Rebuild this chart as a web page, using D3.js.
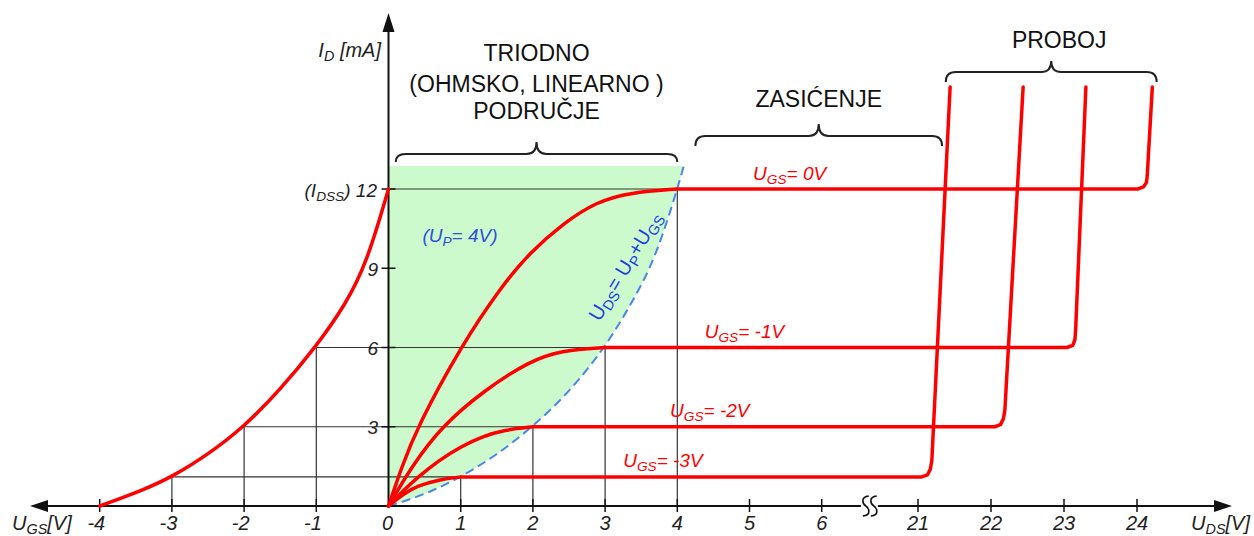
<!DOCTYPE html>
<html lang="en">
<head>
<meta charset="UTF-8">
<title>JFET karakteristike</title>
<script src="https://cdn.jsdelivr.net/npm/d3@7"></script>
<style>
    body{ margin:0; background:#fff; }
    svg{ display:block; font-family:"Liberation Sans", Arial, sans-serif; }
</style>
</head>
<body>
<svg id="chart" width="1254" height="536"></svg>
<script>
    // prijenosna karakteristika I_D(U_GS)
    let transferUgs = [-4, -3.4, -3, -2.5, -2, -1.5, -1, -0.6, -0.3, 0];
    let transferId  = [0, 0.6, 1.1, 1.95, 3.0, 4.4, 6.05, 7.6, 9.2, 12];

    // izlazne karakteristike, jedna za svaki U_GS
    let ugsNames = ["= 0V", "= -1V", "= -2V", "= -3V"];
    let satLevel = [12, 6, 3, 1.1];
    let satStart = [4, 3, 2, 1];          // U_DS = U_P + U_GS
    let gridLeft = [0, -1, -2, -3];       // U_GS sa prijenosne
    let triodeUds = [
        [0, 0.18, 0.4, 1.0, 1.56, 1.96, 2.42, 2.88, 3.35, 4.0],
        [0, 0.32, 0.73, 1.33, 1.96, 2.41, 3.0],
        [0, 0.2, 0.4, 0.7, 1.0, 1.3, 1.6, 2.0],
        [0, 0.2, 0.4, 0.7, 1.0]
    ];
    let triodeId = [
        [0, 1.45, 3.0, 6.03, 8.3, 9.6, 10.7, 11.52, 11.87, 12.0],
        [0, 1.49, 3.0, 4.39, 5.5, 5.9, 6.0],
        [0, 0.57, 1.08, 1.73, 2.25, 2.63, 2.88, 3.0],
        [0, 0.45, 0.76, 1.0, 1.1]
    ];
    // zasicenje + proboj
    let breakUds = [
        [24.01, 24.09, 24.13, 24.14, 24.21],
        [23.04, 23.12, 23.15, 23.16, 23.30],
        [22.05, 22.13, 22.17, 22.19, 22.44],
        [21.05, 21.13, 21.17, 21.19, 21.44]
    ];
    let breakId = [
        [12, 12.08, 12.25, 12.5, 15.86],
        [6, 6.08, 6.3, 6.7, 15.86],
        [3, 3.08, 3.3, 3.63, 15.86],
        [1.1, 1.18, 1.4, 1.74, 15.86]
    ];
    let labelUds = [5.05, 4.38, 3.9, 3.25];

    // granica U_DS = U_P + U_GS
    let boundUds = [0, 0.5, 1.0, 1.47, 2.0, 2.5, 3.0, 3.35, 3.69, 4.0, 4.09];
    let boundId  = [0, 0.42, 1.1, 1.87, 3.0, 4.3, 6.0, 7.6, 9.3, 12.0, 12.87];
    let greenTop = 12.87;

    let xTicks = [-4, -3, -2, -1, 1, 2, 3, 4, 5, 6, 21, 22, 23, 24];
    let xTickLabels = ["-4", "-3", "-2", "-1", "1", "2", "3", "4", "5", "6", "21", "22", "23", "24"];
    let yTicks = [3, 6, 9, 12];
    let yTickLabels = ["3", "6", "9", "12"];

    let x = d3.scaleLinear().domain([-4, 6, 21, 24]).range([99.7, 821.7, 918, 1137]);
    let y = d3.scaleLinear().domain([0, 12]).range([506, 189]);

    let svg = d3.select("#chart");
    let red = "#ff0000";

    function zip(a, b){ return a.map((v, i) => [v, b[i]]); }

    // tekst sa indeksom
    function rich(g, px, py, parts, size, color, anchor, italic){
        let t = g.append("text")
            .attr("x", px).attr("y", py)
            .attr("font-size", size)
            .attr("fill", color)
            .attr("text-anchor", anchor || "start")
            .attr("font-style", italic ? "italic" : "normal");
        parts.forEach((p, i) => {
            let s = t.append("tspan").text(p[0]);
            if (p[1]) s.attr("font-size", size * 0.72).attr("dy", 4);
            else if (i > 0 && parts[i - 1][1]) s.attr("dy", -4);
        });
        return t;
    }

    let smooth = d3.line().x(d => x(d[0])).y(d => y(d[1])).curve(d3.curveBasis);
    let straight = d3.line().x(d => x(d[0])).y(d => y(d[1]));

    // zelena (triodna) oblast
    let area = d3.area()
        .x(d => x(d[0]))
        .y0(d => y(d[1]))
        .y1(y(greenTop))
        .curve(d3.curveBasis);
    svg.append("path")
        .attr("d", area(zip(boundUds, boundId)))
        .attr("fill", "#ccfacc");

    // pomocne linije
    let grid = svg.append("g").attr("stroke", "#333").attr("stroke-width", 1.2);
    satLevel.forEach((lv, i) => {
        grid.append("line")
            .attr("x1", x(gridLeft[i])).attr("x2", x(satStart[i]))
            .attr("y1", y(lv)).attr("y2", y(lv));
        if (gridLeft[i] < 0) {
            grid.append("line")
                .attr("x1", x(gridLeft[i])).attr("x2", x(gridLeft[i]))
                .attr("y1", y(lv)).attr("y2", y(0));
        }
        grid.append("line")
            .attr("x1", x(satStart[i])).attr("x2", x(satStart[i]))
            .attr("y1", y(lv)).attr("y2", y(0));
    });

    // granica isprekidano
    svg.append("path")
        .attr("d", smooth(zip(boundUds, boundId)))
        .attr("fill", "none")
        .attr("stroke", "#4a86e8")
        .attr("stroke-width", 2)
        .attr("stroke-dasharray", "9,5");

    // ose
    let axes = svg.append("g").attr("stroke", "#111").attr("stroke-width", 2);
    let x0 = x(0), y0 = y(0);
    let breakX = (x(6) + x(21)) / 2;
    axes.append("line").attr("x1", 40).attr("x2", 1222).attr("y1", y0).attr("y2", y0);
    axes.append("line").attr("x1", x0).attr("x2", x0).attr("y1", y0).attr("y2", 28);
    svg.append("path").attr("d", `M30,${y0} L48,${y0 - 6} L48,${y0 + 6} Z`).attr("fill", "#111");
    svg.append("path").attr("d", `M1232,${y0} L1214,${y0 - 6} L1214,${y0 + 6} Z`).attr("fill", "#111");
    svg.append("path").attr("d", `M${x0},13 L${x0 - 6},32 L${x0 + 6},32 Z`).attr("fill", "#111");

    // prekid ose
    svg.append("rect").attr("x", breakX - 9).attr("y", y0 - 3).attr("width", 17).attr("height", 6).attr("fill", "#fff");
    [-4, 4].forEach(dx => {
        let cx = breakX + dx;
        svg.append("path")
            .attr("d", `M${cx + 3},${y0 - 10} C${cx - 6},${y0 - 9} ${cx - 3},${y0 - 2} ${cx},${y0} C${cx + 3},${y0 + 2} ${cx + 6},${y0 + 9} ${cx - 3},${y0 + 10}`)
            .attr("fill", "none").attr("stroke", "#111").attr("stroke-width", 1.6);
    });

    // podjele
    xTicks.forEach(v => {
        axes.append("line").attr("x1", x(v)).attr("x2", x(v)).attr("y1", y0 - 7).attr("y2", y0 + 6).attr("stroke-width", 1.5);
    });
    yTicks.forEach(v => {
        axes.append("line").attr("x1", x0 - 7).attr("x2", x0 + 7).attr("y1", y(v)).attr("y2", y(v)).attr("stroke-width", 1.5);
    });

    let labels = svg.append("g").attr("font-size", 20).attr("font-style", "italic").attr("fill", "#222");
    xTicks.forEach((v, i) => {
        let neg = v < 0;
        labels.append("text")
            .attr("x", neg ? x(v) + 5.5 : x(v))
            .attr("y", 530)
            .attr("text-anchor", neg ? "end" : "middle")
            .text(xTickLabels[i]);
    });
    labels.append("text").attr("x", x0 - 1).attr("y", 530).attr("text-anchor", "middle").text("0");
    yTicks.forEach((v, i) => {
        if (v === 12) return;
        labels.append("text").attr("x", 378).attr("y", y(v) + 7.5).attr("text-anchor", "end").attr("font-size", 19).text(yTickLabels[i]);
    });
    rich(svg, 377, y(12) + 8, [["(I", false], ["DSS", true], [") 12", false]], 19, "#222", "end", true);

    // nazivi osa
    rich(svg, 381, 57, [["I", false], ["D", true], [" [mA]", false]], 20, "#222", "end", true);
    rich(svg, 12, 530, [["U", false], ["GS", true], ["[V]", false]], 20, "#222", "start", true);
    rich(svg, 1250, 530, [["U", false], ["DS", true], ["[V]", false]], 20, "#222", "end", true);

    // prijenosna karakteristika
    svg.append("path")
        .attr("d", smooth(zip(transferUgs, transferId)))
        .attr("fill", "none").attr("stroke", red).attr("stroke-width", 3.5).attr("stroke-linecap", "round");

    // izlazne karakteristike
    satLevel.forEach((lv, i) => {
        let d = smooth(zip(triodeUds[i], triodeId[i])) +
            straight(zip(breakUds[i], breakId[i])).replace(/^M/, "L");
        svg.append("path")
            .attr("d", d)
            .attr("fill", "none").attr("stroke", red).attr("stroke-width", 3.5)
            .attr("stroke-linecap", "round").attr("stroke-linejoin", "round");
        rich(svg, x(labelUds[i]), y(lv) - 9.5, [["U", false], ["GS", true], [ugsNames[i], false]], 19, red, "start", true);
    });

    // plave oznake
    rich(svg, x(0.47), 242, [["(U", false], ["P", true], ["= 4V)", false]], 19, "#2f4fdc", "start", true);
    let rot = svg.append("g").attr("transform", "translate(625,266) rotate(-59)");
    rich(rot, 0, 7, [["U", false], ["DS", true], ["= U", false], ["P", true], ["+U", false], ["GS", true]], 20, "#2240e0", "middle", false);

    // zagrade
    function brace(xa, xb, yb, yh, yp){
        let xc = (xa + xb) / 2, r = 10;
        return `M${xa},${yb} Q${xa},${yh} ${xa + r},${yh} L${xc - r},${yh} Q${xc},${yh} ${xc},${yp}` +
               ` Q${xc},${yh} ${xc + r},${yh} L${xb - r},${yh} Q${xb},${yh} ${xb},${yb}`;
    }
    let br = svg.append("g").attr("fill", "none").attr("stroke", "#222").attr("stroke-width", 2);
    br.append("path").attr("d", brace(x(0.1), x(4.0), 162, 154, 142));
    br.append("path").attr("d", brace(x(4.25), x(21.33), 146, 136, 124));
    br.append("path").attr("d", brace(x(21.38), x(24.27), 82, 72, 61));

    let titles = svg.append("g").attr("font-size", 23).attr("fill", "#111").attr("text-anchor", "middle");
    let cT = (x(0.1) + x(4.0)) / 2;
    titles.append("text").attr("x", cT).attr("y", 61).text("TRIODNO");
    titles.append("text").attr("x", cT).attr("y", 92).text("(OHMSKO, LINEARNO )");
    titles.append("text").attr("x", cT).attr("y", 119).text("PODRUČJE");
    titles.append("text").attr("x", (x(4.25) + x(21.33)) / 2).attr("y", 107).text("ZASIĆENJE");
    titles.append("text").attr("x", (x(21.38) + x(24.27)) / 2 + 8).attr("y", 48).text("PROBOJ");
</script>
</body>
</html>
